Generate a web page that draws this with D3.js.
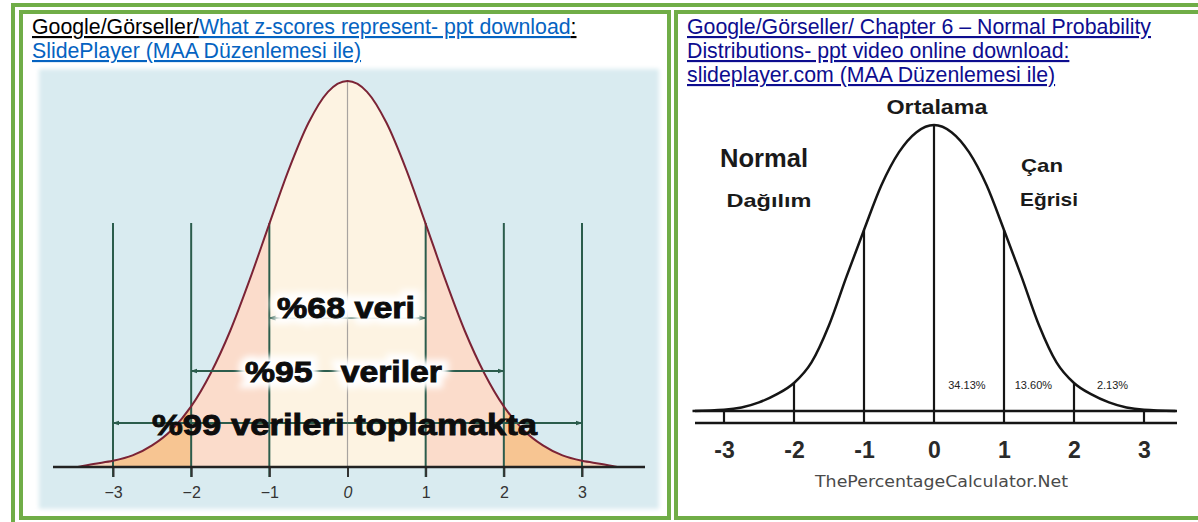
<!DOCTYPE html>
<html><head><meta charset="utf-8">
<script src="https://cdn.jsdelivr.net/npm/d3@7"></script>
<style>html,body{margin:0;padding:0;background:#fff;}svg{display:block;}</style>
</head><body>
<div id="chart"></div>
<script>
// ---------- data ----------
const zTicks = [-3, -2, -1, 0, 1, 2, 3];
const leftTickLabels = ["\u22123", "\u22122", "\u22121", "0", "1", "2", "3"];
const rightTickLabels = ["-3", "-2", "-1", "0", "1", "2", "3"];

// curve heights (relative to the peak)
const leftCurveZ = [-3.45, -3.25, -3, -2.75, -2.5, -2.25, -2, -1.75, -1.5, -1.25, -1, -0.75, -0.5, -0.25, 0, 0.25, 0.5, 0.75, 1, 1.25, 1.5, 1.75, 2, 2.25, 2.5, 2.75, 3, 3.25, 3.45];
const leftCurveH = [0.0, 0.008, 0.016, 0.030, 0.056, 0.096, 0.157, 0.243, 0.353, 0.486, 0.630, 0.771, 0.891, 0.972, 1.0, 0.972, 0.891, 0.771, 0.630, 0.486, 0.353, 0.243, 0.157, 0.096, 0.056, 0.030, 0.016, 0.008, 0.0];

// curve heights
const rightCurveZ = [-3.45, -3, -2.75, -2.5, -2.25, -2, -1.75, -1.5, -1.25, -1, -0.75, -0.5, -0.25, 0, 0.25, 0.5, 0.75, 1, 1.25, 1.5, 1.75, 2, 2.25, 2.5, 2.75, 3, 3.45];
const rightCurveH = [0.0, 0.004, 0.012, 0.030, 0.058, 0.098, 0.170, 0.300, 0.470, 0.633, 0.790, 0.905, 0.975, 1.0, 0.975, 0.905, 0.790, 0.633, 0.470, 0.300, 0.170, 0.098, 0.058, 0.030, 0.012, 0.004, 0.0];

const coverageZ = [1, 2, 3];
const coverageLabels = ["%68 veri", "%95   veriler", "%99 verileri toplamakta"];

const pctZ = [0.47, 1.42, 2.55];
const pctLabels = ["34.13%", "13.60%", "2.13%"];

const leftHeader1 = ["Google/Görseller/", "What z-scores represent- ppt download", ":"];
const leftHeader2 = "SlidePlayer (MAA Düzenlemesi ile)";
const rightHeader = ["Google/Görseller/ Chapter 6 \u2013 Normal Probability", "Distributions- ppt video online download:", "slideplayer.com (MAA Düzenlemesi ile)"];
const rightWords = ["Ortalama", "Normal", "Dağılım", "Çan", "Eğrisi"];
const watermark = "ThePercentageCalculator.Net";

// ---------- drawing ----------
const W = 1198, H = 522;
const green = "#70ad47";
const svg = d3.select("#chart").append("svg").attr("width", W).attr("height", H)
  .style("font-family", "'Liberation Sans', Arial, sans-serif");

const defs = svg.append("defs");
defs.append("filter").attr("id", "halo").attr("x", "-20%").attr("y", "-50%").attr("width", "140%").attr("height", "200%")
  .append("feGaussianBlur").attr("stdDeviation", 3);
defs.append("filter").attr("id", "soft").append("feGaussianBlur").attr("stdDeviation", 2);
const mk = defs.append("marker").attr("id", "arr").attr("viewBox", "0 0 10 10").attr("refX", 9).attr("refY", 5)
  .attr("markerWidth", 7).attr("markerHeight", 7).attr("orient", "auto-start-reverse").attr("markerUnits", "userSpaceOnUse");
mk.append("path").attr("d", "M0,1.5 L10,5 L0,8.5 Z").attr("fill", "#2b5c4c");

// borders (double green lines)
const bw = 4;
svg.append("rect").attr("x", 11 + bw / 2).attr("y", 3 + bw / 2).attr("width", W + 20).attr("height", H + 20)
  .attr("fill", "none").attr("stroke", green).attr("stroke-width", bw);
svg.append("rect").attr("x", 19 + bw / 2).attr("y", 10 + bw / 2).attr("width", 671 - 19 - bw).attr("height", 520 - 10 - bw)
  .attr("fill", "none").attr("stroke", green).attr("stroke-width", bw);
svg.append("rect").attr("x", 674 + bw / 2).attr("y", 10 + bw / 2).attr("width", W + 20 - 674).attr("height", 520 - 10 - bw)
  .attr("fill", "none").attr("stroke", green).attr("stroke-width", bw);

// headers
const fs = 21.3;
const lh1 = svg.append("text").attr("x", 32).attr("y", 34).attr("font-size", fs);
const hcol = ["#000", "#0563c1", "#000"];
leftHeader1.forEach((t, i) => lh1.append("tspan").text(t).attr("fill", hcol[i]).style("text-decoration", "underline"));
svg.append("text").attr("x", 32).attr("y", 58).attr("font-size", fs).attr("fill", "#0563c1")
  .style("text-decoration", "underline").text(leftHeader2);
rightHeader.forEach((t, i) => svg.append("text").attr("x", 687).attr("y", 34 + i * 24).attr("font-size", fs)
  .attr("fill", "#0d0d8f").style("text-decoration", "underline").text(t));

// ================= LEFT CHART =================
const gL = svg.append("g");
gL.append("rect").attr("x", 39).attr("y", 69).attr("width", 620).attr("height", 440).attr("fill", "#d9ebf0").attr("filter", "url(#soft)");
const xL = d3.scaleLinear().domain([-3, 3]).range([113, 582]);
const yL = d3.scaleLinear().domain([0, 1]).range([467, 81]);
const ptsL = leftCurveZ.map((z, i) => [z, leftCurveH[i]]);
const areaL = d3.area().x(d => xL(d[0])).y0(yL(0)).y1(d => yL(d[1])).curve(d3.curveMonotoneX);
const lineL = d3.line().x(d => xL(d[0])).y(d => yL(d[1])).curve(d3.curveMonotoneX);

const bands = [
  { a: -3.6, b: -3, c: "#f9d6bd" }, { a: -3, b: -2, c: "#f7c592" }, { a: -2, b: -1, c: "#fbdccb" },
  { a: -1, b: 1, c: "#fdf3e2" }, { a: 1, b: 2, c: "#fbdccb" }, { a: 2, b: 3, c: "#f7c592" }, { a: 3, b: 3.6, c: "#f9d6bd" }
];
bands.forEach((b, i) => {
  defs.append("clipPath").attr("id", "band" + i).append("rect")
    .attr("x", xL(b.a)).attr("y", 0).attr("width", xL(b.b) - xL(b.a)).attr("height", H);
  gL.append("path").datum(ptsL).attr("d", areaL).attr("fill", b.c).attr("clip-path", `url(#band${i})`);
});

// centre line
gL.append("line").attr("x1", xL(0)).attr("x2", xL(0)).attr("y1", yL(1)).attr("y2", yL(0))
  .attr("stroke", "#a8a3a0").attr("stroke-width", 1.2);
// green verticals
gL.selectAll("line.sd").data(zTicks.filter(z => z !== 0)).join("line").attr("class", "sd")
  .attr("x1", d => xL(d)).attr("x2", d => xL(d)).attr("y1", 223).attr("y2", yL(0) + 10)
  .attr("stroke", "#2b5c4c").attr("stroke-width", 2);
// curve
gL.append("path").datum(ptsL).attr("d", lineL).attr("fill", "none").attr("stroke", "#7b2335").attr("stroke-width", 2);

// axis
const axL = d3.axisBottom(xL).tickValues(zTicks).tickFormat((d, i) => leftTickLabels[i]).tickSize(10).tickPadding(10);
const gax = gL.append("g").attr("transform", `translate(0,${yL(0)})`).call(axL);
gax.select(".domain").remove();
gax.selectAll(".tick line").attr("stroke", "#333").attr("stroke-width", 2);
gax.selectAll(".tick text").attr("font-size", 16).attr("fill", "#333").attr("font-family", "'Liberation Sans', Arial, sans-serif")
  .style("font-style", d => d === 0 ? "italic" : "normal");
gL.append("line").attr("x1", 53).attr("x2", 645).attr("y1", yL(0)).attr("y2", yL(0)).attr("stroke", "#222").attr("stroke-width", 2.5);

// arrows + labels
const arrowY = [318, 371, 423];
const textY = [318, 382, 435];
const textX0 = [277, 245, 152];
const textW = [138, 197, 385];
coverageZ.forEach((z, i) => {
  gL.append("line").attr("x1", xL(0)).attr("x2", xL(-z)).attr("y1", arrowY[i]).attr("y2", arrowY[i])
    .attr("stroke", "#2b5c4c").attr("stroke-width", 2).attr("marker-end", "url(#arr)");
  gL.append("line").attr("x1", xL(0)).attr("x2", xL(z)).attr("y1", arrowY[i]).attr("y2", arrowY[i])
    .attr("stroke", "#2b5c4c").attr("stroke-width", 2).attr("marker-end", "url(#arr)");
  if (i < 2) {
    gL.append("text").attr("x", textX0[i]).attr("y", textY[i]).attr("font-size", 29).attr("font-weight", "bold")
      .attr("textLength", textW[i]).attr("lengthAdjust", "spacingAndGlyphs").style("white-space", "pre")
      .attr("fill", "#fff").attr("stroke", "#fff").attr("stroke-width", 12).attr("filter", "url(#halo)").text(coverageLabels[i]);
  }
  gL.append("text").attr("x", textX0[i]).attr("y", textY[i]).attr("font-size", 29).attr("font-weight", "bold")
    .attr("textLength", textW[i]).attr("lengthAdjust", "spacingAndGlyphs").style("white-space", "pre")
    .attr("fill", "#0d0d0d").attr("stroke", "#0d0d0d").attr("stroke-width", 0.9).text(coverageLabels[i]);
});

// ================= RIGHT CHART =================
const gR = svg.append("g");
const xR = d3.scaleLinear().domain([-3, 3]).range([724, 1144]);
const yR = d3.scaleLinear().domain([0, 1]).range([411, 125]);
const baseR = 423;
const ptsR = rightCurveZ.map((z, i) => [z, rightCurveH[i]]);
const hAt = z => rightCurveH[rightCurveZ.indexOf(z)];
const lineR = d3.line().x(d => xR(d[0])).y(d => yR(d[1])).curve(d3.curveMonotoneX);
const ink = "#151515";
// tail line and base line
gR.append("line").attr("x1", 695).attr("x2", 1177).attr("y1", yR(0)).attr("y2", yR(0)).attr("stroke", ink).attr("stroke-width", 2.5);
gR.append("line").attr("x1", 695).attr("x2", 1177).attr("y1", baseR).attr("y2", baseR).attr("stroke", ink).attr("stroke-width", 2.5);
gR.append("path").datum(ptsR).attr("d", lineR).attr("fill", "none").attr("stroke", ink).attr("stroke-width", 2.5);
gR.selectAll("line.v").data(zTicks).join("line").attr("class", "v")
  .attr("x1", d => xR(d)).attr("x2", d => xR(d)).attr("y1", d => yR(hAt(d))).attr("y2", baseR)
  .attr("stroke", ink).attr("stroke-width", 2.2);
const axR = d3.axisBottom(xR).tickValues(zTicks).tickFormat((d, i) => rightTickLabels[i]).tickSize(0).tickPadding(19);
const gaxR = gR.append("g").attr("transform", `translate(0,${baseR})`).call(axR);
gaxR.select(".domain").remove();
gaxR.selectAll(".tick text").attr("font-size", 23).attr("font-weight", "bold").attr("fill", "#2a2a2a")
  .attr("font-family", "'Liberation Sans', Arial, sans-serif");

gR.selectAll("text.pct").data(pctZ).join("text").attr("class", "pct")
  .attr("x", d => xR(d)).attr("y", 389).attr("text-anchor", "middle").attr("font-size", 11).attr("fill", "#222")
  .text((d, i) => pctLabels[i]);

const wordPos = [
  { x: 937, y: 114, fs: 20, w: 101 },
  { x: 764, y: 167, fs: 25, w: 88 },
  { x: 769, y: 207, fs: 19, w: 85 },
  { x: 1042, y: 172, fs: 19, w: 42 },
  { x: 1049, y: 206, fs: 19, w: 58 }
];
rightWords.forEach((t, i) => {
  const p = wordPos[i];
  gR.append("text").attr("x", p.x - p.w / 2).attr("y", p.y).attr("font-size", p.fs).attr("font-weight", "bold")
    .attr("fill", "#1a1a1a").attr("textLength", p.w).attr("lengthAdjust", "spacingAndGlyphs").text(t);
});
gR.append("text").attr("x", 815).attr("y", 487).attr("font-size", 15).attr("fill", "#4a4a4a")
  .attr("font-family", "'DejaVu Sans', sans-serif").attr("textLength", 253).attr("lengthAdjust", "spacingAndGlyphs").text(watermark);
</script>
</body></html>
